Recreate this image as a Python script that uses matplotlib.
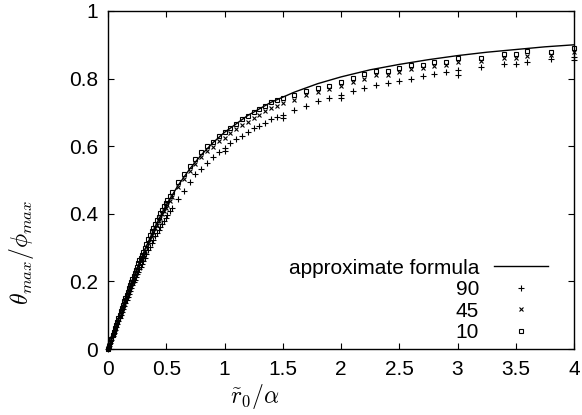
import matplotlib
matplotlib.use("Agg")
import matplotlib.pyplot as plt

plt.rcParams['font.family'] = ['Liberation Sans', 'DejaVu Sans']
plt.rcParams['mathtext.fontset'] = 'cm'

# approximate formula curve
line_x = [0, 0.05, 0.1, 0.2, 0.3, 0.4, 0.5, 0.6, 0.7, 0.8, 0.9, 1.0, 1.2, 1.4,
          1.6, 1.8, 2.0, 2.25, 2.5, 2.75, 3.0, 3.25, 3.5, 3.75, 4.0]
line_y = [0, 0.050, 0.100, 0.195, 0.281, 0.359, 0.426, 0.483, 0.532, 0.574, 0.610,
          0.641, 0.691, 0.730, 0.760, 0.785, 0.805, 0.826, 0.842, 0.856, 0.868,
          0.878, 0.886, 0.894, 0.900]

# sample points
xs = [0.00, 0.01, 0.02, 0.03, 0.04, 0.05, 0.06, 0.07, 0.08, 0.09, 0.10,
      0.12, 0.14, 0.16, 0.18, 0.20, 0.22, 0.24, 0.26, 0.28, 0.30,
      0.33, 0.36, 0.39, 0.42, 0.45, 0.48, 0.51, 0.55,
      0.60, 0.65, 0.70, 0.75, 0.80, 0.85, 0.90, 0.95, 1.00, 1.05, 1.10, 1.15,
      1.20, 1.25, 1.30, 1.35, 1.40, 1.45, 1.50,
      1.60, 1.70, 1.80, 1.90, 2.00, 2.10, 2.20, 2.30, 2.40, 2.50, 2.60, 2.70,
      2.80, 2.90, 3.00,
      3.20, 3.40, 3.50, 3.60, 3.80, 4.00]

y10 = [0.000, 0.010, 0.020, 0.031, 0.041, 0.051, 0.061, 0.071, 0.081, 0.091, 0.101,
       0.121, 0.141, 0.160, 0.179, 0.198, 0.217, 0.235, 0.253, 0.270, 0.287,
       0.312, 0.336, 0.359, 0.381, 0.402, 0.422, 0.441, 0.465,
       0.493, 0.519, 0.542, 0.562, 0.582, 0.602, 0.611, 0.631, 0.641, 0.653, 0.666, 0.680,
       0.690, 0.700, 0.710, 0.720, 0.730, 0.737, 0.742,
       0.751, 0.764, 0.771, 0.779, 0.791, 0.801, 0.814, 0.822, 0.822, 0.830, 0.840, 0.840,
       0.850, 0.850, 0.860,
       0.860, 0.873, 0.873, 0.882, 0.880, 0.892]

y45 = [0.000, 0.010, 0.020, 0.030, 0.040, 0.050, 0.060, 0.070, 0.080, 0.090, 0.099,
       0.118, 0.137, 0.156, 0.174, 0.192, 0.210, 0.228, 0.245, 0.262, 0.278,
       0.302, 0.325, 0.347, 0.368, 0.389, 0.408, 0.427, 0.451,
       0.478, 0.504, 0.527, 0.548, 0.568, 0.586, 0.598, 0.614, 0.625, 0.638, 0.650, 0.662,
       0.673, 0.683, 0.693, 0.703, 0.712, 0.720, 0.727,
       0.738, 0.750, 0.759, 0.768, 0.778, 0.789, 0.800, 0.810, 0.812, 0.820, 0.828, 0.830,
       0.838, 0.840, 0.848,
       0.852, 0.862, 0.862, 0.868, 0.870, 0.880]

y90 = [0.000, 0.009, 0.019, 0.028, 0.037, 0.047, 0.056, 0.065, 0.074, 0.083, 0.092,
       0.110, 0.128, 0.146, 0.163, 0.180, 0.197, 0.213, 0.229, 0.244, 0.259,
       0.281, 0.302, 0.323, 0.342, 0.361, 0.379, 0.396, 0.418,
       0.444, 0.468, 0.495, 0.517, 0.534, 0.551, 0.569, 0.584, 0.594, 0.609, 0.620, 0.631,
       0.641, 0.655, 0.661, 0.670, 0.680, 0.685, 0.692,
       0.707, 0.720, 0.734, 0.744, 0.752, 0.764, 0.771, 0.781, 0.788, 0.794, 0.800, 0.808,
       0.814, 0.820, 0.825,
       0.834, 0.842, 0.842, 0.849, 0.857, 0.864]

# extra dense points near the origin
xs_b = [0.11, 0.13, 0.15, 0.17, 0.19, 0.21, 0.23, 0.25, 0.27, 0.29,
        0.315, 0.345, 0.375, 0.405, 0.435, 0.465, 0.495, 0.53]
y10_b = [0.111, 0.131, 0.151, 0.170, 0.189, 0.208, 0.226, 0.244, 0.262, 0.279,
         0.300, 0.324, 0.348, 0.370, 0.392, 0.412, 0.432, 0.453]
y45_b = [0.109, 0.128, 0.147, 0.165, 0.183, 0.201, 0.219, 0.237, 0.254, 0.270,
         0.290, 0.314, 0.336, 0.358, 0.379, 0.399, 0.418, 0.439]
y90_b = [0.101, 0.119, 0.137, 0.155, 0.172, 0.189, 0.205, 0.221, 0.237, 0.252,
         0.270, 0.292, 0.313, 0.333, 0.352, 0.370, 0.388, 0.407]

# duplicated "90" points
x90_extra = [1.00, 1.50, 2.00, 3.00, 4.00]
y90_extra = [0.585, 0.682, 0.744, 0.812, 0.854]

labels = ["approximate formula", "90", "45", "10"]
xticks = [0, 0.5, 1, 1.5, 2, 2.5, 3, 3.5, 4]
yticks = [0, 0.2, 0.4, 0.6, 0.8, 1]

fig = plt.figure(figsize=(5.82, 4.15), dpi=100)
ax = fig.add_axes([108/582, 1 - 349/415, 466/582, 338/415])

ax.plot(line_x, line_y, color='black', lw=1.0, label=labels[0], zorder=2)
ax.plot(xs + xs_b + x90_extra, y90 + y90_b + y90_extra, ls='none', marker='+',
        ms=5, mew=0.8, color='black', label=labels[1], clip_on=False, zorder=3)
ax.plot(xs + xs_b, y45 + y45_b, ls='none', marker='x', ms=3.5, mew=0.8,
        color='black', label=labels[2], clip_on=False, zorder=3)
ax.plot(xs + xs_b, y10 + y10_b, ls='none', marker='s', ms=3.5, mew=0.8, mfc='none',
        color='black', label=labels[3], clip_on=False, zorder=3)

ax.set_xlim(0, 4)
ax.set_ylim(0, 1)
ax.set_xticks(xticks)
ax.set_xticklabels([f"{t:g}" for t in xticks])
ax.set_yticks(yticks)
ax.set_yticklabels([f"{t:g}" for t in yticks])
ax.tick_params(direction='in', length=4.5, width=0.8, top=True, right=True,
               labelsize=15)
ax.tick_params(axis='x', pad=8)
ax.tick_params(axis='y', pad=7)
for s in ax.spines.values():
    s.set_linewidth(1.0)

ax.set_xlabel(r"$\tilde{r}_0/\alpha$", fontsize=17)
ax.set_ylabel(r"$\theta_{max}/\phi_{max}$", fontsize=17)
ax.xaxis.set_label_coords(0.315, -0.142)
ax.yaxis.set_label_coords(-0.185, 0.287)
ax.xaxis.label.set_va('center')
ax.yaxis.label.set_va('center')

leg = ax.legend(loc='lower right', bbox_to_anchor=(0.944, 0.02), markerfirst=False,
                frameon=False, fontsize=15, handlelength=2.6, handletextpad=0.7,
                labelspacing=0.12, borderpad=0, borderaxespad=0, numpoints=1)

fig.savefig("out.png", dpi=100)
